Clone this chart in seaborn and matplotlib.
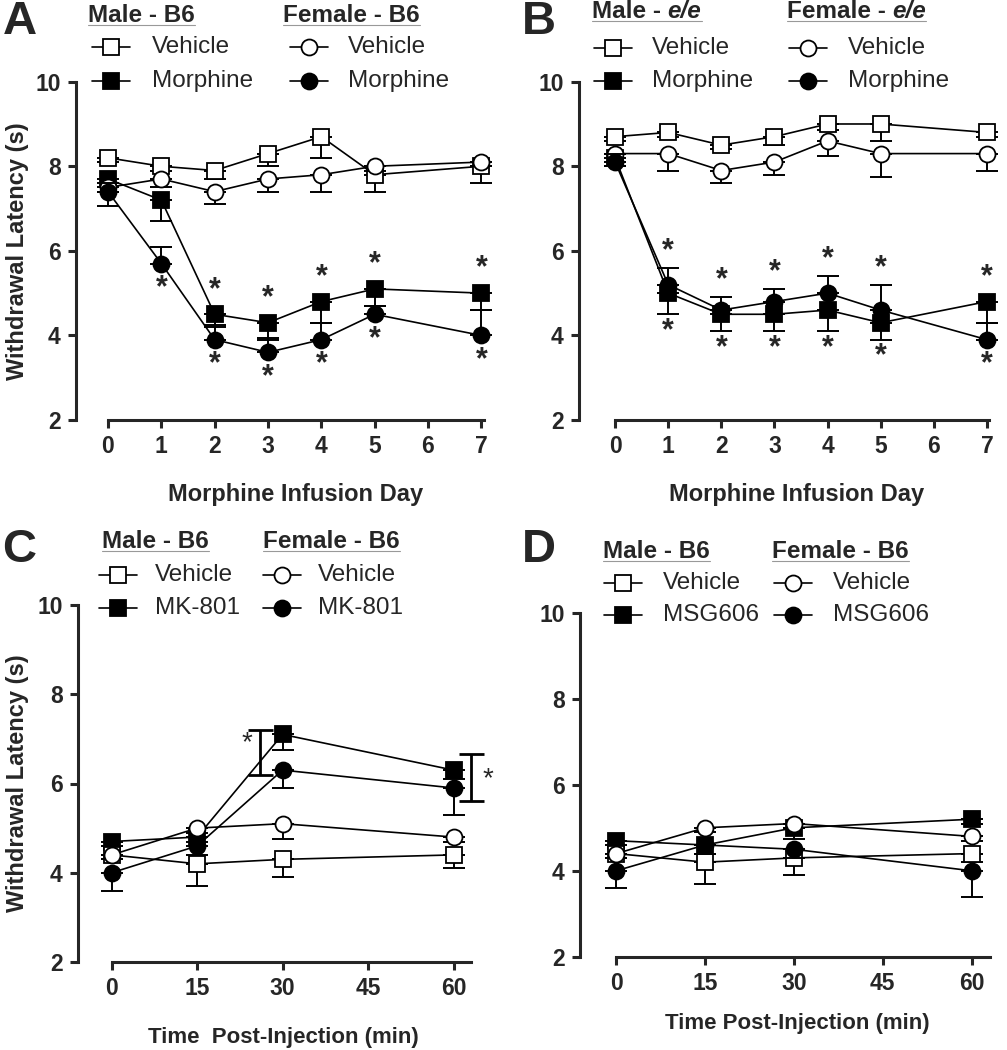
import numpy as np
import pandas as pd
import matplotlib.pyplot as plt
import seaborn as sns
from matplotlib.lines import Line2D

# x values
days = [0, 1, 2, 3, 4, 5, 7]
minutes = [0, 15, 30, 60]

# panel A - B6 mice, morphine infusion
a_male_veh = [8.2, 8.0, 7.9, 8.3, 8.7, 7.8, 8.0]
a_male_veh_err = [0.1, 0.1, 0.2, 0.3, 0.5, 0.4, 0.4]
a_male_drug = [7.7, 7.2, 4.5, 4.3, 4.8, 5.1, 5.0]
a_male_drug_err = [0.3, 0.5, 0.25, 0.4, 0.5, 0.4, 0.4]
a_fem_veh = [7.5, 7.7, 7.4, 7.7, 7.8, 8.0, 8.1]
a_fem_veh_err = [0.45, 0.2, 0.3, 0.3, 0.4, 0.1, 0.1]
a_fem_drug = [7.4, 5.7, 3.9, 3.6, 3.9, 4.5, 4.0]
a_fem_drug_err = [0.2, 0.4, 0.3, 0.35, 0.4, 0.2, 0.6]

# panel B - e/e mice, morphine infusion
b_male_veh = [8.7, 8.8, 8.5, 8.7, 9.0, 9.0, 8.8]
b_male_veh_err = [0.1, 0.1, 0.1, 0.2, 0.15, 0.4, 0.1]
b_male_drug = [8.2, 5.0, 4.5, 4.5, 4.6, 4.3, 4.8]
b_male_drug_err = [0.2, 0.5, 0.4, 0.4, 0.5, 0.4, 0.5]
b_fem_veh = [8.3, 8.3, 7.9, 8.1, 8.6, 8.3, 8.3]
b_fem_veh_err = [0.3, 0.4, 0.3, 0.3, 0.35, 0.55, 0.4]
b_fem_drug = [8.1, 5.2, 4.6, 4.8, 5.0, 4.6, 3.9]
b_fem_drug_err = [0.2, 0.4, 0.3, 0.3, 0.4, 0.6, 0.4]

# panel C - MK-801
c_male_veh = [4.4, 4.2, 4.3, 4.4]
c_male_veh_err = [0.1, 0.5, 0.4, 0.3]
c_male_drug = [4.7, 4.8, 7.1, 6.3]
c_male_drug_err = [0.1, 0.1, 0.35, 0.2]
c_fem_veh = [4.4, 5.0, 5.1, 4.8]
c_fem_veh_err = [0.1, 0.1, 0.35, 0.1]
c_fem_drug = [4.0, 4.6, 6.3, 5.9]
c_fem_drug_err = [0.4, 0.2, 0.4, 0.6]

# panel D - MSG606
d_male_veh = [4.4, 4.2, 4.3, 4.4]
d_male_veh_err = [0.1, 0.5, 0.4, 0.2]
d_male_drug = [4.7, 4.6, 5.0, 5.2]
d_male_drug_err = [0.1, 0.2, 0.25, 0.1]
d_fem_veh = [4.4, 5.0, 5.1, 4.8]
d_fem_veh_err = [0.1, 0.1, 0.1, 0.1]
d_fem_drug = [4.0, 4.6, 4.5, 4.0]
d_fem_drug_err = [0.4, 0.2, 0.2, 0.6]

# significance stars: 1 = above the point, -1 = below, 0 = none
a_male_star_side = [0, 0, 1, 1, 1, 1, 1]
a_fem_star_side = [0, -1, -1, -1, -1, -1, -1]
b_male_star_side = [0, -1, -1, -1, -1, -1, 1]
b_fem_star_side = [0, 1, 1, 1, 1, 1, -1]

sns.set_style('ticks')
plt.rcParams['font.family'] = ['Liberation Sans', 'DejaVu Sans']

W, H = 1007, 1050
fig = plt.figure(figsize=(W / 100, H / 100), dpi=100)


def add_ax(left, right, top, bottom):
    return fig.add_axes([left / W, 1 - bottom / H, (right - left) / W, (bottom - top) / H])


def series(ax, x, y, err, direction, marker, filled, z):
    df = pd.DataFrame({'x': x, 'y': y})
    e = np.array(err)
    yerr = [e, np.zeros_like(e)] if direction < 0 else [np.zeros_like(e), e]
    ax.errorbar(x, y, yerr=yerr, fmt='none', ecolor='black', elinewidth=1.4,
                capsize=8, capthick=1.4, zorder=z, clip_on=False)
    sns.lineplot(data=df, x='x', y='y', ax=ax, color='black', lw=1.2,
                 marker=marker, markersize=11.5, markeredgewidth=1.3,
                 markeredgecolor='black',
                 markerfacecolor='black' if filled else 'white',
                 zorder=z + 0.5, clip_on=False)


def style_ax(ax, xlim, xbounds, xticks):
    ax.set_xlim(*xlim)
    ax.set_ylim(2, 10)
    ax.set_yticks([2, 4, 6, 8, 10])
    ax.set_xticks(xticks)
    sns.despine(ax=ax)
    ax.spines['bottom'].set_bounds(*xbounds)
    for s in ['left', 'bottom']:
        ax.spines[s].set_linewidth(2.2)
    ax.tick_params(width=2.2, length=6, labelsize=16.5, pad=5)
    for lab in ax.get_xticklabels() + ax.get_yticklabels():
        lab.set_fontweight('bold')
    ax.set_xlabel('')
    ax.set_ylabel('')
    ax.patch.set_alpha(0)


def stars(ax, x, y, err, direction, sides):
    for xi, yi, ei, side in zip(x, y, err, sides):
        if side == 0:
            continue
        off = ei + 0.4 if side == direction else 0.58
        ax.text(xi, yi + side * off, '*', ha='center', va='center',
                fontsize=22, fontweight='bold', clip_on=False)


# panel A
axA = add_ax(76, 484, 81.7, 420)
series(axA, days, a_male_veh, a_male_veh_err, -1, 's', False, 3)
series(axA, days, a_male_drug, a_male_drug_err, -1, 's', True, 4)
series(axA, days, a_fem_veh, a_fem_veh_err, -1, 'o', False, 5)
series(axA, days, a_fem_drug, a_fem_drug_err, 1, 'o', True, 6)
stars(axA, days, a_male_drug, a_male_drug_err, -1, a_male_star_side)
stars(axA, days, a_fem_drug, a_fem_drug_err, 1, a_fem_star_side)
style_ax(axA, (-0.6, 7.05), (0, 7.05), days + [6])

# panel B
axB = add_ax(579, 989, 81.7, 420)
series(axB, days, b_male_veh, b_male_veh_err, -1, 's', False, 3)
series(axB, days, b_male_drug, b_male_drug_err, -1, 's', True, 4)
series(axB, days, b_fem_veh, b_fem_veh_err, -1, 'o', False, 5)
series(axB, days, b_fem_drug, b_fem_drug_err, 1, 'o', True, 6)
stars(axB, days, b_male_drug, b_male_drug_err, -1, b_male_star_side)
stars(axB, days, b_fem_drug, b_fem_drug_err, 1, b_fem_star_side)
style_ax(axB, (-0.68, 7.04), (0, 7.04), days + [6])

# panel C
axC = add_ax(78, 470.6, 605, 962)
series(axC, minutes, c_male_drug, c_male_drug_err, -1, 's', True, 3)
series(axC, minutes, c_male_veh, c_male_veh_err, -1, 's', False, 4)
series(axC, minutes, c_fem_veh, c_fem_veh_err, -1, 'o', False, 5)
series(axC, minutes, c_fem_drug, c_fem_drug_err, -1, 'o', True, 6)
style_ax(axC, (-5.9, 63), (0, 63), [0, 15, 30, 45, 60])
# significance brackets
for bx, lo, hi, sx, sy in [(26, 6.2, 7.2, 23.8, 6.9), (63, 5.6, 6.65, 66, 6.1)]:
    axC.errorbar([bx], [(lo + hi) / 2], yerr=[(hi - lo) / 2], fmt='none',
                 ecolor='black', elinewidth=2, capsize=9, capthick=2, clip_on=False)
    axC.text(sx, sy, '*', ha='center', va='center', fontsize=20, clip_on=False)

# panel D
axD = add_ax(580, 990, 613, 956.7)
series(axD, minutes, d_male_drug, d_male_drug_err, -1, 's', True, 3)
series(axD, minutes, d_male_veh, d_male_veh_err, -1, 's', False, 4)
series(axD, minutes, d_fem_veh, d_fem_veh_err, -1, 'o', False, 5)
series(axD, minutes, d_fem_drug, d_fem_drug_err, -1, 'o', True, 6)
style_ax(axD, (-6.1, 63.1), (0, 63.1), [0, 15, 30, 45, 60])

# overlay in pixel coordinates for legends and labels
ov = fig.add_axes([0, 0, 1, 1], zorder=10)
ov.set_xlim(0, W)
ov.set_ylim(H, 0)
ov.axis('off')
ov.patch.set_alpha(0)

for txt, x, y in [('A', 20, 22), ('B', 539, 22), ('C', 19, 550), ('D', 539, 550)]:
    ov.text(x, y, txt, fontsize=34, fontweight='bold', ha='center', va='center')

ov.text(18, 251, 'Withdrawal Latency (s)', rotation=90, fontsize=17,
        fontweight='bold', ha='center', va='center')
ov.text(18, 783, 'Withdrawal Latency (s)', rotation=90, fontsize=17,
        fontweight='bold', ha='center', va='center')
ov.text(296, 494, 'Morphine Infusion Day', fontsize=17, fontweight='bold', ha='center', va='center')
ov.text(797, 494, 'Morphine Infusion Day', fontsize=17, fontweight='bold', ha='center', va='center')
ov.text(283, 1038, 'Time  Post-Injection (min)', fontsize=16, fontweight='bold', ha='center', va='center')
ov.text(797, 1024, 'Time Post-Injection (min)', fontsize=16, fontweight='bold', ha='center', va='center')

fig.canvas.draw()
renderer = fig.canvas.get_renderer()


def title(x, y, main, ital=None):
    t = ov.text(x, y, main, fontsize=17.5, fontweight='bold', ha='left', va='center')
    bb = t.get_window_extent(renderer)
    x1 = x + bb.width
    if ital:
        t2 = ov.text(x1, y, ital, fontsize=17.5, fontweight='bold', style='italic',
                     ha='left', va='center')
        x1 += t2.get_window_extent(renderer).width
    ov.plot([x, x1], [y + 10, y + 10], color='#999999', lw=0.8)


def entry(x, y, marker, filled, label, tx):
    ov.add_line(Line2D([x - 19, x + 19], [y, y], color='black', lw=1.2))
    ov.plot([x], [y], marker=marker, markersize=11.5, markeredgewidth=1.3,
            markeredgecolor='black', markerfacecolor='black' if filled else 'white')
    ov.text(tx, y, label, fontsize=17.5, ha='left', va='center')


legend_specs = [
    (88, 283, 15, 47, 81, 111, 152, 309, 348, 'Male - ', 'Female - ', 'B6', None, 'Morphine'),
    (592, 787, 11, 48, 81, 613, 652, 808, 848, 'Male - ', 'Female - ', None, 'e/e', 'Morphine'),
    (102, 263, 541, 575, 608, 118, 155, 282, 318, 'Male - ', 'Female - ', 'B6', None, 'MK-801'),
    (603, 772, 551, 583, 615, 623, 663, 793, 833, 'Male - ', 'Female - ', 'B6', None, 'MSG606'),
]
for (mx, fx, ty, r1, r2, mmx, mtx, fmx, ftx, mt, ft, strain, ital, drug) in legend_specs:
    if strain:
        title(mx, ty, mt + strain)
        title(fx, ty, ft + strain)
    else:
        title(mx, ty, mt, ital)
        title(fx, ty, ft, ital)
    entry(mmx, r1, 's', False, 'Vehicle', mtx)
    entry(mmx, r2, 's', True, drug, mtx)
    entry(fmx, r1, 'o', False, 'Vehicle', ftx)
    entry(fmx, r2, 'o', True, drug, ftx)

fig.savefig('out.png', dpi=100)
